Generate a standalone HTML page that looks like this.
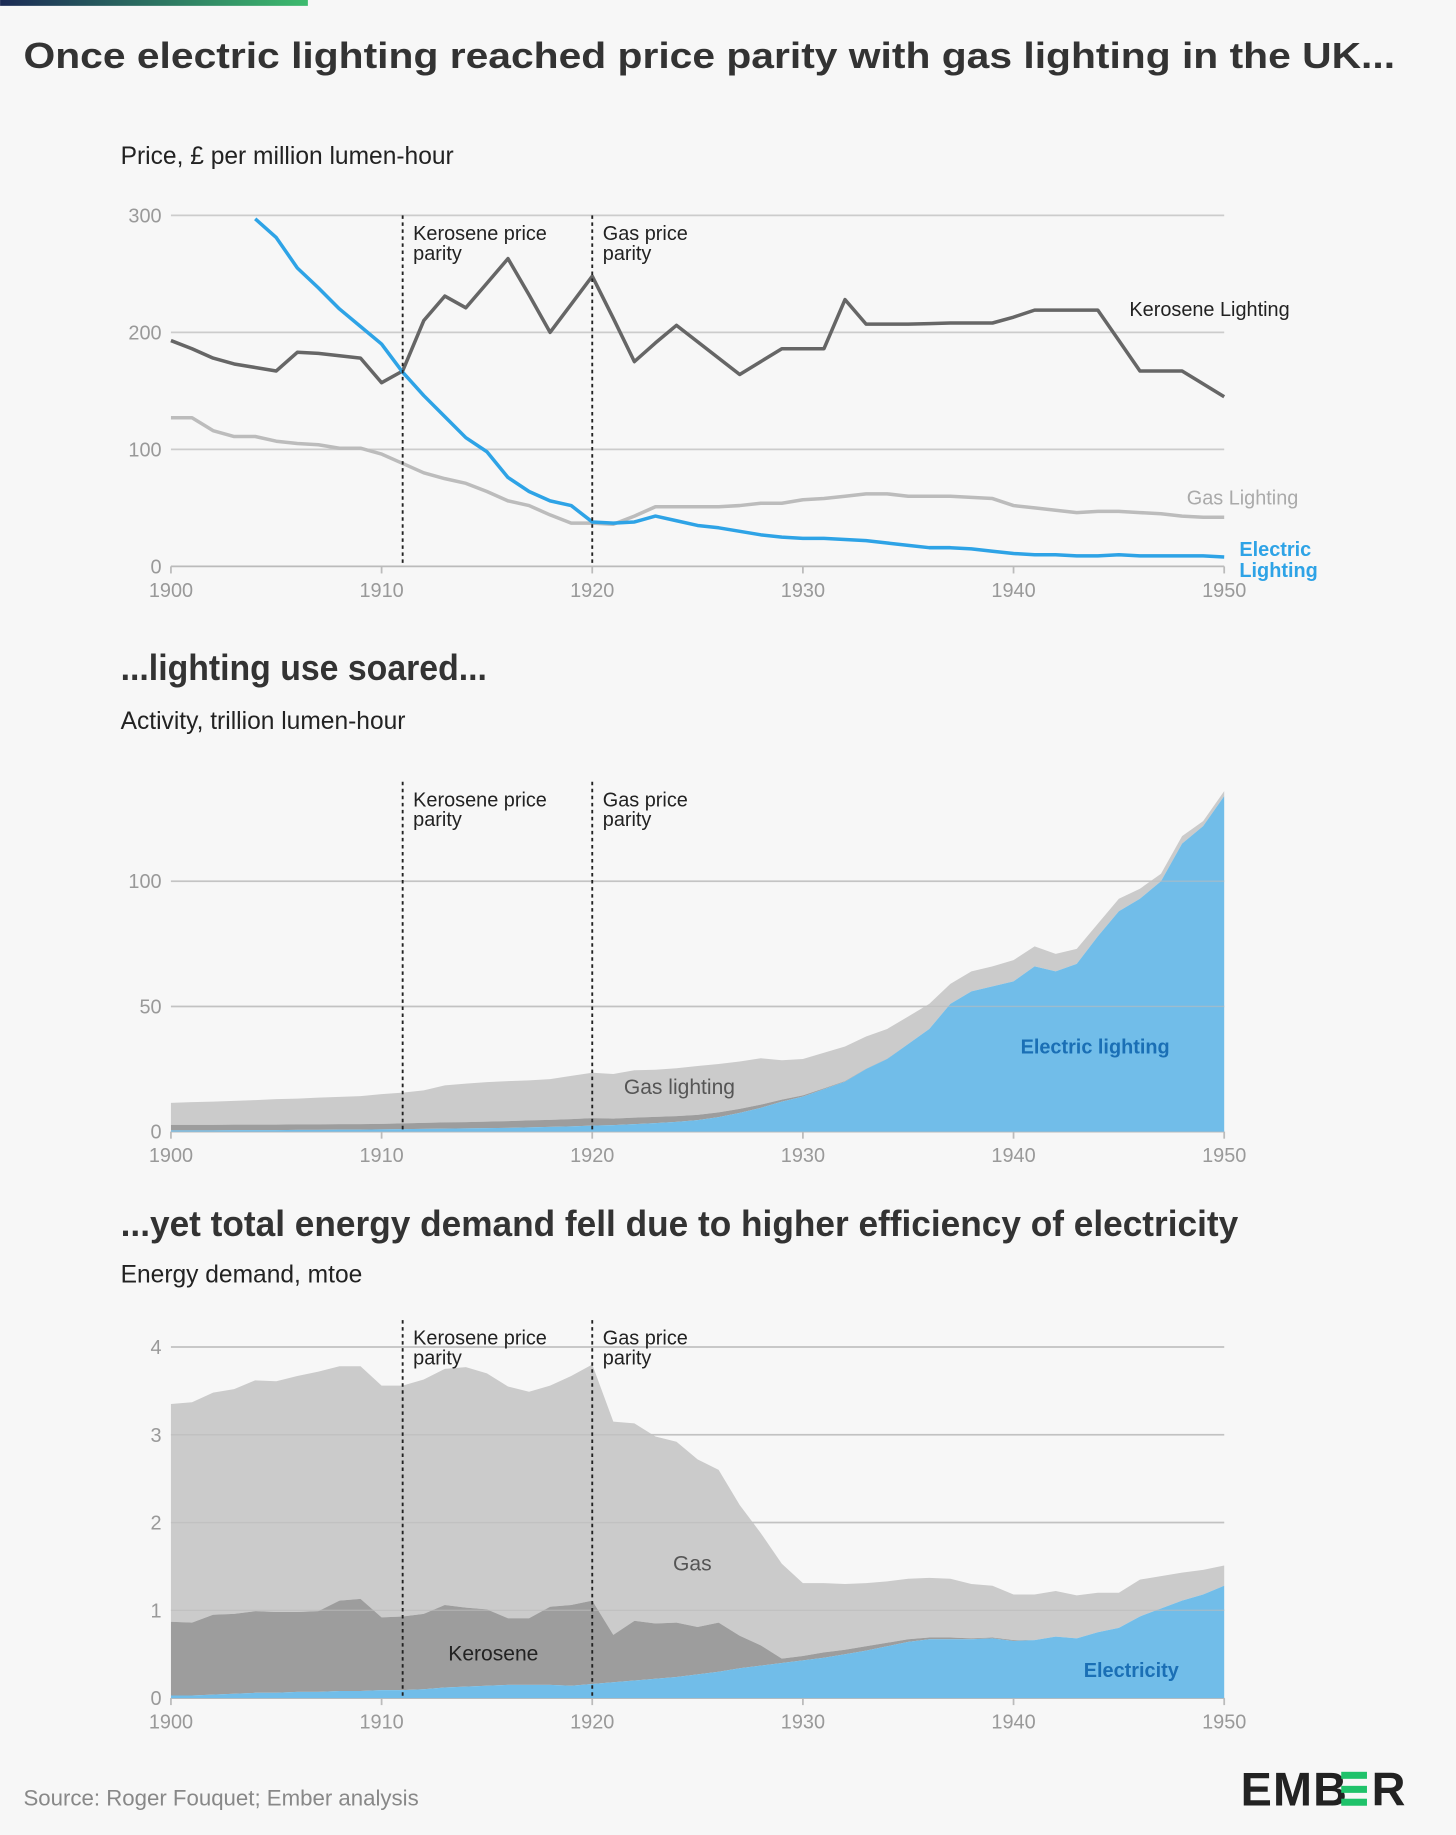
<!DOCTYPE html>
<html><head><meta charset="utf-8"><style>
html,body{margin:0;padding:0;background:#f7f7f7;}
svg{display:block;font-family:"Liberation Sans",sans-serif;}
.tick{font-size:17px;fill:#999;}
.ann{font-size:17px;fill:#222;}
.sub{font-size:21px;fill:#222;}
.h{font-size:31px;font-weight:bold;fill:#333;}
</style></head><body>
<svg id="c" width="1456" height="1835" viewBox="0 0 1244 1568" xmlns="http://www.w3.org/2000/svg">
<defs><linearGradient id="gb" x1="0" x2="1"><stop offset="0" stop-color="#1b2a55"/><stop offset="1" stop-color="#3dbb6e"/></linearGradient></defs>
<rect x="0" y="0" width="1244" height="1568" fill="#f7f7f7"/>
<rect x="0" y="0" width="263" height="5" fill="url(#gb)"/>
<text class="h" x="20" y="58" textLength="1172" lengthAdjust="spacingAndGlyphs">Once electric lighting reached price parity with gas lighting in the UK...</text>
<text class="sub" x="103" y="140">Price, £ per million lumen-hour</text>
<text class="h" x="103" y="581" textLength="313" lengthAdjust="spacingAndGlyphs">...lighting use soared...</text>
<text class="sub" x="103" y="623">Activity, trillion lumen-hour</text>
<text class="h" x="103" y="1056" textLength="955" lengthAdjust="spacingAndGlyphs">...yet total energy demand fell due to higher efficiency of electricity</text>
<text class="sub" x="103" y="1096">Energy demand, mtoe</text>
<text x="20" y="1543" style="font-size:19px;fill:#888">Source: Roger Fouquet; Ember analysis</text>
<g>
<text x="1060" y="1543" style="font-size:40px;font-weight:bold;fill:#222;letter-spacing:1px">EMB</text>
<rect x="1146" y="1514" width="22" height="6" fill="#1fc26a"/><rect x="1146" y="1526" width="22" height="6" fill="#1fc26a"/><rect x="1146" y="1537" width="22" height="6" fill="#1fc26a"/>
<text x="1172" y="1543" style="font-size:40px;font-weight:bold;fill:#222">R</text>
</g>
<g id="g1"></g><g id="g2"></g><g id="g3"></g>
</svg>
<script>
const years=[];for(let y=1900;y<=1950;y++)years.push(y);
const priceKerosene=[193,186,178,173,170,167,183,182,180,178,157,167,210,231,221,242,263,232,200,224,248,212,175,191,206,192,178,164,175,186,186,186,228,207,207,207,207.5,208,208,208,213,219,219,219,219,193,167,167,167,156,145];
const priceGas=[127,127,116,111,111,107,105,104,101,101,96,88,80,75,71,64,56,52,44,37,37,36,43,51,51,51,51,52,54,54,57,58,60,62,62,60,60,60,59,58,52,50,48,46,47,47,46,45,43,42,42];
const priceElectric=[null,null,null,null,297,281,255,238,220,205,190,166,146,128,110,98,76,64,56,52,38,37,38,43,39,35,33,30,27,25,24,24,23,22,20,18,16,16,15,13,11,10,10,9,9,10,9,9,9,9,8];
const priceTicks=[0,100,200,300];
const actElectric=[0.5,0.5,0.5,0.6,0.6,0.6,0.7,0.7,0.8,0.8,0.9,1,1.1,1.2,1.3,1.4,1.5,1.7,1.9,2.1,2.4,2.6,3,3.4,3.9,4.6,5.8,7.5,9.5,12,14,17,20,25,29,35,41,51,56,58,60,66,64,67,78,88,93,100,115,122,134];
const actKerosene=[2.2,2.2,2.2,2.2,2.2,2.2,2.2,2.2,2.2,2.2,2.2,2.3,2.4,2.5,2.5,2.6,2.7,2.8,2.8,2.9,3.0,2.6,2.6,2.5,2.3,2.1,1.9,1.6,1.3,0.8,0.5,0.3,0.2,0.1,0.1,0,0,0,0,0,0,0,0,0,0,0,0,0,0,0,0];
const actGas=[8.8,9.1,9.3,9.5,9.8,10.2,10.3,10.7,10.9,11.2,11.9,12.3,13,14.8,15.4,15.8,16,16,16.3,17.3,18.1,17.8,18.9,18.8,19.1,19.5,19.3,18.9,18.5,15.7,14.5,14.2,13.8,12.9,11.9,11,10,8,8,8,8.5,8,7,6,5,5,4,3,3,2,2];
const actTicks=[0,50,100];
const enElectric=[0.03,0.03,0.04,0.05,0.06,0.06,0.07,0.07,0.08,0.08,0.09,0.09,0.1,0.12,0.13,0.14,0.15,0.15,0.15,0.14,0.16,0.18,0.2,0.22,0.24,0.27,0.3,0.34,0.37,0.4,0.43,0.46,0.5,0.54,0.59,0.64,0.67,0.67,0.67,0.68,0.65,0.66,0.7,0.68,0.75,0.8,0.93,1.02,1.11,1.18,1.28];
const enKerosene=[0.84,0.83,0.91,0.91,0.93,0.92,0.91,0.92,1.03,1.05,0.83,0.84,0.86,0.94,0.9,0.87,0.76,0.76,0.89,0.92,0.95,0.54,0.68,0.63,0.62,0.54,0.56,0.37,0.23,0.05,0.05,0.06,0.05,0.05,0.04,0.03,0.02,0.02,0.01,0.01,0.01,0,0,0,0,0,0,0,0,0,0];
const enGas=[2.48,2.51,2.53,2.56,2.63,2.63,2.69,2.73,2.67,2.65,2.64,2.63,2.67,2.69,2.74,2.69,2.64,2.58,2.52,2.61,2.69,2.43,2.25,2.13,2.06,1.91,1.74,1.49,1.28,1.08,0.83,0.79,0.75,0.72,0.7,0.69,0.68,0.67,0.62,0.59,0.52,0.52,0.52,0.49,0.45,0.4,0.42,0.37,0.32,0.28,0.23];
const enTicks=[0,1,2,3,4];
const xTicks=[1900,1910,1920,1930,1940,1950];
const parityYears=[1911,1920];

const NS="http://www.w3.org/2000/svg";
const X=y=>146+(y-1900)*18;
function mk(p,t,a){const e=document.createElementNS(NS,t);for(const k in a)e.setAttribute(k,a[k]);p.appendChild(e);return e;}
function tx(p,x,y,s,cls,anchor,style){const e=mk(p,'text',{x:x,y:y,class:cls,'text-anchor':anchor||'start'});if(style)e.setAttribute('style',style);e.textContent=s;return e;}

function frame(g,Y,ticks,y0,y1,top){
  ticks.forEach(t=>{
    const l=mk(g,'line',{x1:146,x2:1046,y1:Y(t),y2:Y(t),stroke:t===0?'#bbb':'#ccc','stroke-width':1.5});
    
    
    const tt=tx(g,138,Y(t)+6,String(t),'tick','end');
    
    
  });
  xTicks.forEach(v=>{
    mk(g,'line',{x1:X(v),x2:X(v),y1:y0,y2:y0+6,stroke:'#bbb','stroke-width':1.5});
    const tt=tx(g,X(v),y0+26,String(v),'tick','middle');
    
    
  });
}
function parity(g,y0,top){
  parityYears.forEach((p,i)=>{
    const l=mk(g,'line',{x1:X(p),x2:X(p),y1:top,y2:y0,stroke:'#222','stroke-width':1.6,'stroke-dasharray':'3,3'});
    
    
    const lines=i===0?['Kerosene price','parity']:['Gas price','parity'];
    lines.forEach((s,j)=>{const t=tx(g,X(p)+9,top+21+j*17,s,'ann');
      
      });
  });
}
function linePath(vals,Y){let d='',pen=false;vals.forEach((v,i)=>{if(v===null){pen=false;return;}d+=(pen?'L':'M')+X(years[i])+','+Y(v);pen=true;});return d;}
function areaPath(lo,hi,Y){let d='';years.forEach((yr,i)=>{d+=(i?'L':'M')+X(yr)+','+Y(hi[i]);});for(let i=years.length-1;i>=0;i--)d+='L'+X(years[i])+','+Y(lo[i]);return d+'Z';}

// Chart 1
(function(){
  const g=document.getElementById('g1');
  const Y=v=>484-v*1;
  frame(g,Y,priceTicks,484,184);
  const series=[[priceKerosene,'#666','kerosene-price-line'],[priceGas,'#bcbcbc','gas-price-line'],[priceElectric,'#2ea3e6','electric-price-line']];
  series.forEach(s=>{const p=mk(g,'path',{d:linePath(s[0],Y),fill:'none',stroke:s[1],'stroke-width':3,'stroke-linejoin':'round'});
    
    });
  parity(g,484,184);
  let t=tx(g,965,270,'Kerosene Lighting','ann');
  t=tx(g,1014,431,'Gas Lighting','ann','start','fill:#aaa');
  t=tx(g,1059,475,'Electric','ann','start','fill:#2ea3e6;font-weight:bold');
  t=tx(g,1059,493,'Lighting','ann','start','fill:#2ea3e6;font-weight:bold');
})();

function stacked(gid,Y,el,ke,ga,ticks,y0,top,names){
  const g=document.getElementById(gid);
  const z=years.map(()=>0);
  const s1=el.slice();
  const s2=el.map((v,i)=>v+ke[i]);
  const s3=s2.map((v,i)=>v+ga[i]);
  frame(g,Y,ticks,y0,top);
  let p=mk(g,'path',{d:areaPath(s2,s3,Y),fill:'#cbcbcb'});
  p=mk(g,'path',{d:areaPath(s1,s2,Y),fill:'#9d9d9d'});
  p=mk(g,'path',{d:areaPath(z,s1,Y),fill:'#71bde9'});
  ticks.filter(t=>t>0).forEach(t=>{const l=mk(g,'line',{x1:146,x2:1046,y1:Y(t),y2:Y(t),stroke:'#bbb','stroke-width':1.2,'stroke-opacity':0.6});
    });
  parity(g,y0,top);
  return g;
}
(function(){
  const Y=v=>967-v*2.14;
  const g=stacked('g2',Y,actElectric,actKerosene,actGas,actTicks,967,668,['electric-activity-area','kerosene-activity-area','gas-activity-area']);
  let t=tx(g,533,935,'Gas lighting','ann','start','fill:#555;font-size:18px');
  t=tx(g,872,900,'Electric lighting','ann','start','fill:#1a6fb5;font-weight:bold');
})();
(function(){
  const Y=v=>1451-v*75;
  const g=stacked('g3',Y,enElectric,enKerosene,enGas,enTicks,1451,1128,['electric-energy-area','kerosene-energy-area','gas-energy-area']);
  let t=tx(g,575,1342,'Gas','ann','start','fill:#555;font-size:18px');
  t=tx(g,383,1419,'Kerosene','ann','start','fill:#222;font-size:18px');
  t=tx(g,926,1433,'Electricity','ann','start','fill:#1a6fb5;font-weight:bold');
})();
</script>
</body></html>
